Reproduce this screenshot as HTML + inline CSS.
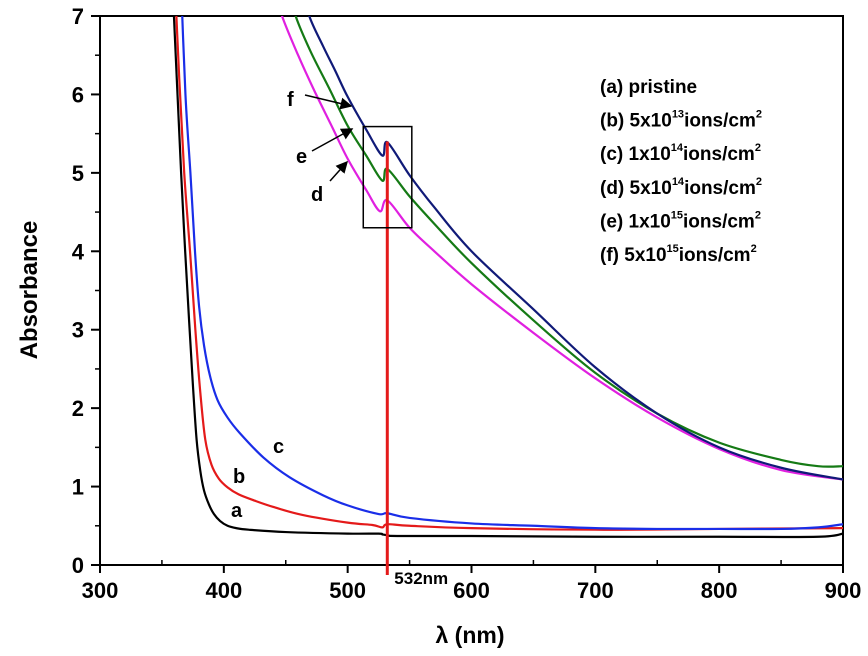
<!DOCTYPE html>
<html><head><meta charset="utf-8">
<style>
html,body{margin:0;padding:0;background:#fff}
svg{display:block;font-family:"Liberation Sans",Arial,sans-serif}
</style></head>
<body>
<svg id="chart" width="868" height="656" viewBox="0 0 868 656">
<defs>
<clipPath id="plotclip"><rect x="100" y="16" width="743" height="549"/></clipPath>
<marker id="ah" markerWidth="8" markerHeight="8" refX="7" refY="4" orient="auto"><path d="M0,0 L8,4 L0,8 z" fill="#000"/></marker>
</defs>
<g id="grid"></g>
<g id="series" clip-path="url(#plotclip)"></g>
<g id="annot"></g>
</svg>
<script>
const xTicks = [300,400,500,600,700,800,900];
const yTicks = [0,1,2,3,4,5,6,7];
const seriesNames = ["a","b","c","d","e","f"];
const seriesColors = ["#000000","#e41a1a","#1a2ee8","#e020e0","#157a15","#101a78"];
const xA = [358,362,365.5,368.7,372,375,378,381,384,388,392,397,403,410,420,450,500,525,528,532,540,600,700,800,880,900];
const yA = [7.6,6.2,5,4.02,3.1,2.3,1.6,1.2,0.95,0.77,0.65,0.56,0.5,0.47,0.45,0.42,0.4,0.4,0.39,0.38,0.37,0.37,0.36,0.36,0.36,0.4];
const xB = [360,364,368,372.7,377,381,385,390,396,403,412,425,440,463,500,520,528,532,550,600,700,800,900];
const yB = [7.6,6.2,5,4.0,3,2.2,1.6,1.28,1.1,0.99,0.9,0.82,0.74,0.64,0.54,0.51,0.48,0.52,0.5,0.47,0.45,0.46,0.47];
const xC = [365,369,373,376.7,380,384,389,395,403,413,432,453,480,500,525,532,550,600,650,700,750,800,850,880,900];
const yC = [7.6,6,5,4.0,3.3,2.8,2.4,2.1,1.88,1.68,1.37,1.12,0.89,0.76,0.65,0.66,0.6,0.53,0.5,0.47,0.46,0.46,0.46,0.48,0.52];
const xD = [440,447,460,473,487,500,515,526,532,550,570,600,650,700,750,800,850,900];
const yD = [7.4,7,6.5,6.05,5.6,5.18,4.78,4.51,4.65,4.3,4.0,3.58,2.96,2.38,1.88,1.48,1.21,1.09];
const xE = [452,458,470,485,500,515,528,532,550,570,600,650,700,750,800,850,880,900];
const yE = [7.4,7,6.55,6.08,5.6,5.22,4.9,5.05,4.7,4.35,3.85,3.12,2.45,1.93,1.56,1.34,1.26,1.26];
const xF = [463,469,480,490,500,515,528,532,550,570,600,650,700,750,800,850,900];
const yF = [7.4,7,6.62,6.3,5.97,5.55,5.22,5.39,4.97,4.56,4.0,3.26,2.52,1.93,1.5,1.24,1.09];
const seriesX = [xA,xB,xC,xD,xE,xF];
const seriesY = [yA,yB,yC,yD,yE,yF];
const laserNm = 532;
const laserTop = 5.4;
const boxX = [512.6,551.8];
const boxY = [4.3,5.59];
const legendLabels = [["(a) pristine","",""],["(b) 5x10","13","ions/cm"],["(c) 1x10","14","ions/cm"],["(d) 5x10","14","ions/cm"],["(e) 1x10","15","ions/cm"],["(f) 5x10","15","ions/cm"]];

const NS="http://www.w3.org/2000/svg";
const X0=100,X1=843,Y0=565,Y1=16;
const sx=v=>X0+(v-300)/600*(X1-X0);
const sy=v=>Y0-(v)/7*(Y0-Y1);
function mk(tag,attrs,parent){const e=document.createElementNS(NS,tag);for(const k in attrs)e.setAttribute(k,attrs[k]);parent.appendChild(e);return e;}
const grid=document.getElementById('grid'),ser=document.getElementById('series'),ann=document.getElementById('annot');

const frame=mk('rect',{x:X0,y:Y1,width:X1-X0,height:Y0-Y1,fill:'none',stroke:'#000','stroke-width':2},grid);


xTicks.forEach(t=>{
  const l=mk('line',{x1:sx(t),x2:sx(t),y1:Y0,y2:Y0+8,stroke:'#000','stroke-width':2},grid);
  
  
  const tx=mk('text',{x:sx(t),y:Y0+33,'text-anchor':'middle','font-size':22,'font-weight':'bold'},grid);
  tx.textContent=t;
  
  
  if(t<900){const m=mk('line',{x1:sx(t+50),x2:sx(t+50),y1:Y0,y2:Y0-5,stroke:'#000','stroke-width':1.5},grid);
  
  }
});
yTicks.forEach(t=>{
  const l=mk('line',{x1:X0-9,x2:X0,y1:sy(t),y2:sy(t),stroke:'#000','stroke-width':2},grid);
  
  
  const tx=mk('text',{x:X0-16,y:sy(t)+8,'text-anchor':'end','font-size':22,'font-weight':'bold'},grid);
  tx.textContent=t;
  
  
  if(t<7){const m=mk('line',{x1:X0-5,x2:X0,y1:sy(t+0.5),y2:sy(t+0.5),stroke:'#000','stroke-width':1.5},grid);
  
  }
});
const xt=mk('text',{x:470,y:643,'text-anchor':'middle','font-size':23,'font-weight':'bold'},grid);
xt.textContent='λ (nm)';


const yt=mk('text',{x:0,y:0,'text-anchor':'middle','font-size':24,'font-weight':'bold',transform:'translate(37,290) rotate(-90)'},grid);
yt.textContent='Absorbance';



function pathFor(xs,ys){
  const p=xs.map((x,i)=>[sx(x),sy(ys[i])]);
  let d='M'+p[0][0]+','+p[0][1];
  for(let i=0;i<p.length-1;i++){
    const p0=p[Math.max(0,i-1)],p1=p[i],p2=p[i+1],p3=p[Math.min(p.length-1,i+2)];
    const c1=[p1[0]+(p2[0]-p0[0])/6,p1[1]+(p2[1]-p0[1])/6];
    const c2=[p2[0]-(p3[0]-p1[0])/6,p2[1]-(p3[1]-p1[1])/6];
    d+=` C${c1[0]},${c1[1]} ${c2[0]},${c2[1]} ${p2[0]},${p2[1]}`;
  }
  return d;
}
seriesNames.forEach((n,i)=>{
  const pth=mk('path',{d:pathFor(seriesX[i],seriesY[i]),fill:'none',stroke:seriesColors[i],'stroke-width':2.2},ser);
  
  
});

const ll=mk('line',{x1:sx(laserNm),x2:sx(laserNm),y1:sy(laserTop),y2:Y0+10,stroke:'#e41a1a','stroke-width':3},ann);


const lt=mk('text',{x:sx(laserNm)+7,y:584,'font-size':17,'font-weight':'bold'},ann);
lt.textContent='532nm';


const bx=mk('rect',{x:sx(boxX[0]),y:sy(boxY[1]),width:sx(boxX[1])-sx(boxX[0]),height:sy(boxY[0])-sy(boxY[1]),fill:'none',stroke:'#000','stroke-width':1.5},ann);



[['a',231,517],['b',233,483],['c',273,453],['f',287,106],['e',296,163],['d',311,201]].forEach(([t,x,y])=>{
  const e=mk('text',{x:x,y:y,'font-size':20,'font-weight':'bold'},ann);
  e.textContent=t;
  
  
});
[[305,95,351,106],[312,151,352,129],[330,181,347,162]].forEach(([a,b,c,d])=>{
  const l=mk('line',{x1:a,y1:b,x2:c,y2:d,stroke:'#000','stroke-width':1.5,'marker-end':'url(#ah)'},ann);
  
  
});

legendLabels.forEach((lab,i)=>{
  const y=93+i*33.6;
  const t=mk('text',{x:600,y:y,'font-size':19,'font-weight':'bold'},ann);
  
  
  const s1=mk('tspan',{},t);s1.textContent=lab[0];
  if(lab[1]){
    const s2=mk('tspan',{dy:-9,'font-size':11},t);s2.textContent=lab[1];
    const s3=mk('tspan',{dy:9},t);s3.textContent=lab[2];
    const s4=mk('tspan',{dy:-9,'font-size':11},t);s4.textContent='2';
  }
});
</script>
</body></html>
